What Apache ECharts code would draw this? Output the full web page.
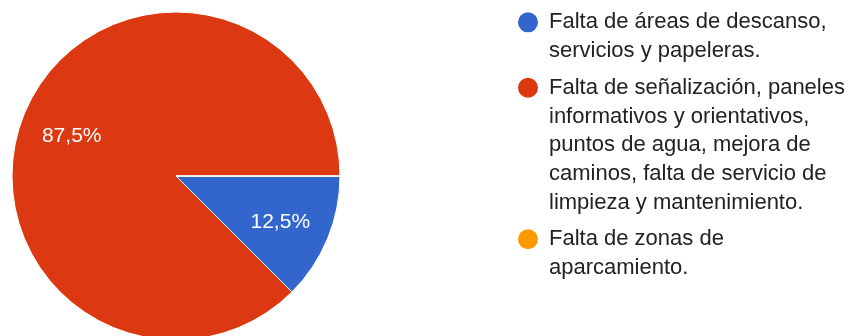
<!DOCTYPE html>
<html>
<head>
<meta charset="utf-8">
<script src="https://cdn.jsdelivr.net/npm/echarts@6/dist/echarts.min.js"></script>
<style>
  html, body { margin: 0; padding: 0; background: #fff; }
  #chart { width: 848px; height: 336px; }
</style>
</head>
<body>
<div id="chart"></div>
<script>
// Survey answers and their response counts
const categories = [
  'Falta de áreas de descanso, servicios y papeleras.',
  'Falta de señalización, paneles informativos y orientativos, puntos de agua, mejora de caminos, falta de servicio de limpieza y mantenimiento.',
  'Falta de zonas de aparcamiento.'
];
const counts = [1, 7, 0];
const colors = ['#3366cc', '#dc3912', '#ff9900'];

const FONT = '"Liberation Sans", Arial, sans-serif';
const LEGEND_FONT_SIZE = 22;
const LEGEND_LINE = 28.7;
const LEGEND_WRAP = 300;
const DOT = 20;
const DOT_GAP = 11;
const center = [176, 176];
const pieRadius = 164;

const sliceData = categories.map((name, i) => ({ name, value: counts[i] }));

function pctLabel(p) {
  if (!p.value) return '';
  return String(p.percent).replace('.', ',') + '%';
}

// word-wrap a legend entry to the legend column width
const measureCtx = document.createElement('canvas').getContext('2d');
measureCtx.font = LEGEND_FONT_SIZE + 'px ' + FONT;
function wrapWords(text, maxWidth) {
  const words = text.split(' ');
  const lines = [];
  let cur = '';
  words.forEach(w => {
    const next = cur ? cur + ' ' + w : w;
    if (cur && measureCtx.measureText(next).width > maxWidth) {
      lines.push(cur);
      cur = w;
    } else {
      cur = next;
    }
  });
  if (cur) lines.push(cur);
  return lines;
}

// legend entries: a coloured dot on the first line, following lines indented
function legendText(name) {
  const idx = categories.indexOf(name);
  const lines = wrapWords(name, LEGEND_WRAP);
  return lines.map((ln, k) =>
    (k === 0 ? '{d' + idx + '|}{g|}' : '{sp|}') + '{t|' + ln + '}'
  ).join('\n');
}

const rich = {
  t: { fontFamily: FONT, fontSize: LEGEND_FONT_SIZE, color: '#222222', lineHeight: LEGEND_LINE },
  g: { width: DOT_GAP, lineHeight: LEGEND_LINE },
  sp: { width: DOT + DOT_GAP, lineHeight: LEGEND_LINE }
};
colors.forEach((c, i) => {
  rich['d' + i] = {
    width: DOT, height: DOT, borderRadius: DOT / 2,
    backgroundColor: c, lineHeight: LEGEND_LINE
  };
});

const chart = echarts.init(document.getElementById('chart'), null, { renderer: 'canvas' });
chart.setOption({
  backgroundColor: '#ffffff',
  animation: false,
  color: colors,
  legend: {
    orient: 'vertical',
    left: 513,
    top: 8,
    padding: 0,
    icon: 'none',
    itemWidth: 0,
    itemHeight: 0,
    itemGap: 8,
    selectedMode: false,
    data: categories,
    formatter: legendText,
    textStyle: {
      fontFamily: FONT,
      fontSize: LEGEND_FONT_SIZE,
      color: '#222222',
      lineHeight: LEGEND_LINE,
      rich: rich
    }
  },
  series: [
    {
      // the pie itself
      name: 'slices',
      type: 'pie',
      center: center,
      radius: [0, pieRadius],
      startAngle: 0,
      clockwise: true,
      silent: true,
      label: { show: false },
      labelLine: { show: false },
      itemStyle: { borderColor: '#ffffff', borderWidth: 1 },
      emphasis: { disabled: true },
      data: sliceData
    },
    {
      // transparent companion disc: its 'inside' labels sit at ~2/3 of the pie radius
      name: 'labels',
      type: 'pie',
      center: center,
      radius: [0, pieRadius * 1.34],
      startAngle: 0,
      clockwise: true,
      silent: true,
      z: 3,
      itemStyle: { color: 'rgba(0,0,0,0)', borderWidth: 0 },
      labelLine: { show: false },
      emphasis: { disabled: true },
      label: {
        show: true,
        position: 'inside',
        formatter: pctLabel,
        color: '#ffffff',
        fontFamily: FONT,
        fontSize: 21,
        fontWeight: 'normal',
        offset: [0, 3]
      },
      data: sliceData
    }
  ]
});
</script>
</body>
</html>
